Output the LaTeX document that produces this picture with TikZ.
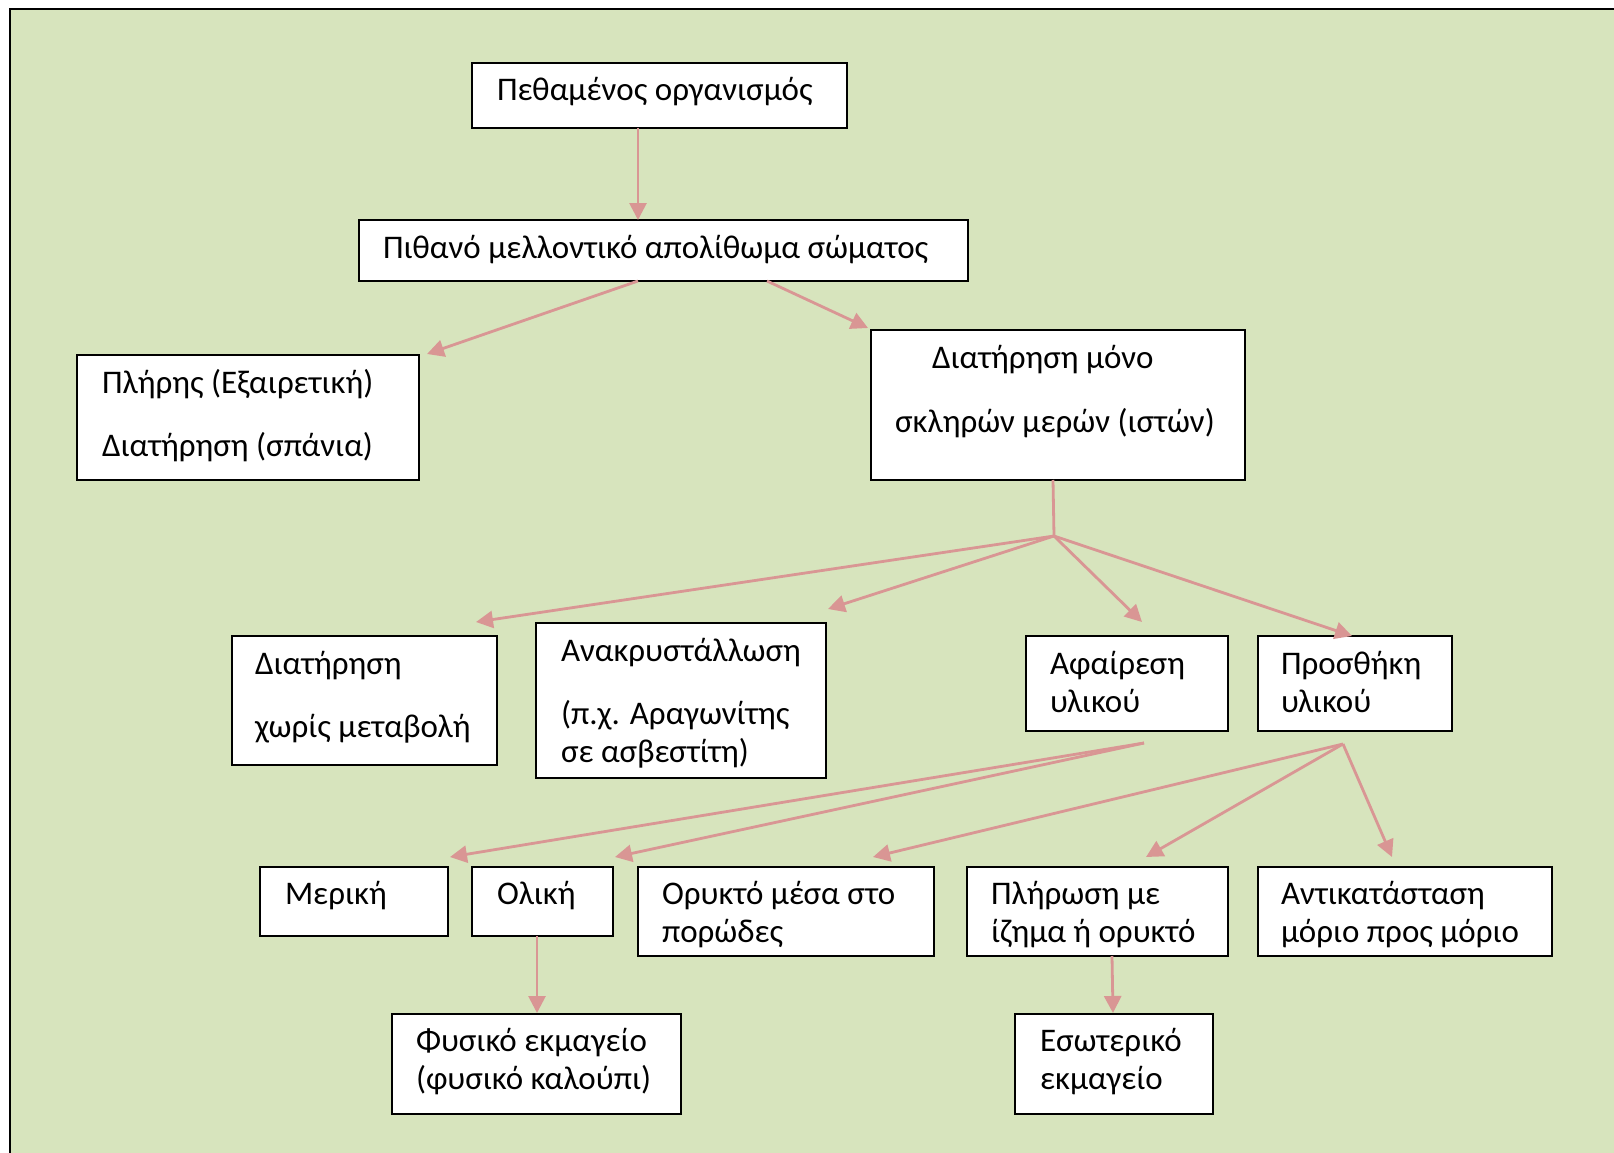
\documentclass[tikz,border=0pt]{standalone}
\usepackage{fontspec}
\setmainfont{Carlito}
\usetikzlibrary{arrows.meta,calc}
\definecolor{bggreen}{HTML}{D7E4BD}
\definecolor{arrowpink}{HTML}{D99694}
\tikzset{
  box/.style={draw=black, line width=2pt, fill=white, inner sep=0pt, outer sep=0pt, anchor=north west},
  txt/.style={inner sep=0pt, outer sep=0pt, anchor=base west, font=\fontsize{33}{40}\selectfont},
  conn/.style={draw=arrowpink, line width=2.8pt},
  arr/.style={conn, -{Triangle[length=17pt,width=17pt]}},
}
\begin{document}
\begin{tikzpicture}[x=1pt,y=-1pt]
\useasboundingbox (0,0) rectangle (1614,1153);
\fill[white] (0,0) rectangle (1614,1153);
\fill[bggreen] (10,9) rectangle (1620,1160);
\draw[black, line width=2.5pt] (10,1160) -- (10,9) -- (1620,9);

% boxes
\node[box, minimum width=375, minimum height=65] (b1) at (472,63) {};
\node[box, minimum width=609, minimum height=61] (b2) at (359,220) {};
\node[box, minimum width=342, minimum height=125] (b3) at (77,355) {};
\node[box, minimum width=374, minimum height=150] (b4) at (871,330) {};
\node[box, minimum width=265, minimum height=129] (b5) at (232,636) {};
\node[box, minimum width=290, minimum height=155] (b6) at (536,623) {};
\node[box, minimum width=202, minimum height=95] (b7) at (1026,636) {};
\node[box, minimum width=194, minimum height=95] (b8) at (1258,636) {};
\node[box, minimum width=188, minimum height=69] (b9) at (260,867) {};
\node[box, minimum width=141, minimum height=69] (b10) at (472,867) {};
\node[box, minimum width=296, minimum height=89] (b11) at (638,867) {};
\node[box, minimum width=261, minimum height=89] (b12) at (967,867) {};
\node[box, minimum width=294, minimum height=89] (b13) at (1258,867) {};
\node[box, minimum width=289, minimum height=100] (b14) at (392,1014) {};
\node[box, minimum width=198, minimum height=100] (b15) at (1015,1014) {};

% texts
\node[txt] (t1) at ($(b1.north west)+(25,38)$) {Πεθαμένος οργανισμός};
\node[txt] (t2) at ($(b2.north west)+(24,38)$) {Πιθανό μελλοντικό απολίθωμα σώματος};
\node[txt] (t3a) at ($(b3.north west)+(25,38)$) {Πλήρης (Εξαιρετική)};
\node[txt] (t3b) at ($(b3.north west)+(25,101)$) {Διατήρηση (σπάνια)};
\node[txt] (t4a) at ($(b4.north west)+(61,38)$) {Διατήρηση μόνο};
\node[txt] (t4b) at ($(b4.north west)+(24,102)$) {σκληρών μερών (ιστών)};
\node[txt] (t5a) at ($(b5.north west)+(23,38)$) {Διατήρηση};
\node[txt] (t5b) at ($(b5.north west)+(23,101)$) {χωρίς μεταβολή};
\node[txt] (t6a) at ($(b6.north west)+(25,38)$) {Ανακρυστάλλωση};
\node[txt] (t6b) at ($(b6.north west)+(25,101)$) {(π.χ. Αραγωνίτης};
\node[txt] (t6c) at ($(b6.north west)+(25,139)$) {σε ασβεστίτη)};
\node[txt] (t7a) at ($(b7.north west)+(24,38)$) {Αφαίρεση};
\node[txt] (t7b) at ($(b7.north west)+(24,76)$) {υλικού};
\node[txt] (t8a) at ($(b8.north west)+(23,38)$) {Προσθήκη};
\node[txt] (t8b) at ($(b8.north west)+(23,76)$) {υλικού};
\node[txt] (t9) at ($(b9.north west)+(25,37)$) {Μερική};
\node[txt] (t10) at ($(b10.north west)+(25,37)$) {Ολική};
\node[txt] (t11a) at ($(b11.north west)+(24,37)$) {Ορυκτό μέσα στο};
\node[txt] (t11b) at ($(b11.north west)+(24,75)$) {πορώδες};
\node[txt] (t12a) at ($(b12.north west)+(24,37)$) {Πλήρωση με};
\node[txt] (t12b) at ($(b12.north west)+(24,75)$) {ίζημα ή ορυκτό};
\node[txt] (t13a) at ($(b13.north west)+(23,37)$) {Αντικατάσταση};
\node[txt] (t13b) at ($(b13.north west)+(23,75)$) {μόριο προς μόριο};
\node[txt] (t14a) at ($(b14.north west)+(24,37)$) {Φυσικό εκμαγείο};
\node[txt] (t14b) at ($(b14.north west)+(24,75)$) {(φυσικό καλούπι)};
\node[txt] (t15a) at ($(b15.north west)+(25,37)$) {Εσωτερικό};
\node[txt] (t15b) at ($(b15.north west)+(25,75)$) {εκμαγείο};

% junctions
\coordinate (j1) at ($(b4.south west)+(183,56)$);
\coordinate (j2) at ($(b7.south west)+(118,12)$);
\coordinate (j3) at ($(b8.south west)+(85,13)$);

% connectors
\draw[arr] ($(b1.south west)+(166,0)$) -- ($(b2.north west)+(279,0)$);
\draw[arr] ($(b2.south west)+(279,0)$) -- ($(b3.north east)+(8,-1)$);
\draw[arr] ($(b2.south west)+(408,0)$) -- ($(b4.north west)+(-3,-2)$);
\draw[conn] ($(b4.south west)+(182,0)$) -- (j1);
\draw[arr] (j1) -- ($(b5.north east)+(-21,-14)$);
\draw[arr] (j1) -- ($(b6.north east)+(2,-14)$);
\draw[arr] (j1) -- ($(b7.north west)+(116,-14)$);
\draw[arr] (j1) -- ($(b8.north west)+(94,0)$);
\draw[arr] (j2) -- ($(b9.north east)+(2,-10)$);
\draw[arr] (j2) -- ($(b10.north east)+(2,-10)$);
\draw[arr] (j3) -- ($(b11.north west)+(235,-10)$);
\draw[arr] (j3) -- ($(b12.north west)+(179,-10)$);
\draw[arr] (j3) -- ($(b13.north west)+(134,-10)$);
\draw[arr] ($(b10.south west)+(65,0)$) -- ($(b14.north west)+(145,-1)$);
\draw[arr] ($(b12.south west)+(145,0)$) -- ($(b15.north west)+(98,-1)$);
\end{tikzpicture}
\end{document}
